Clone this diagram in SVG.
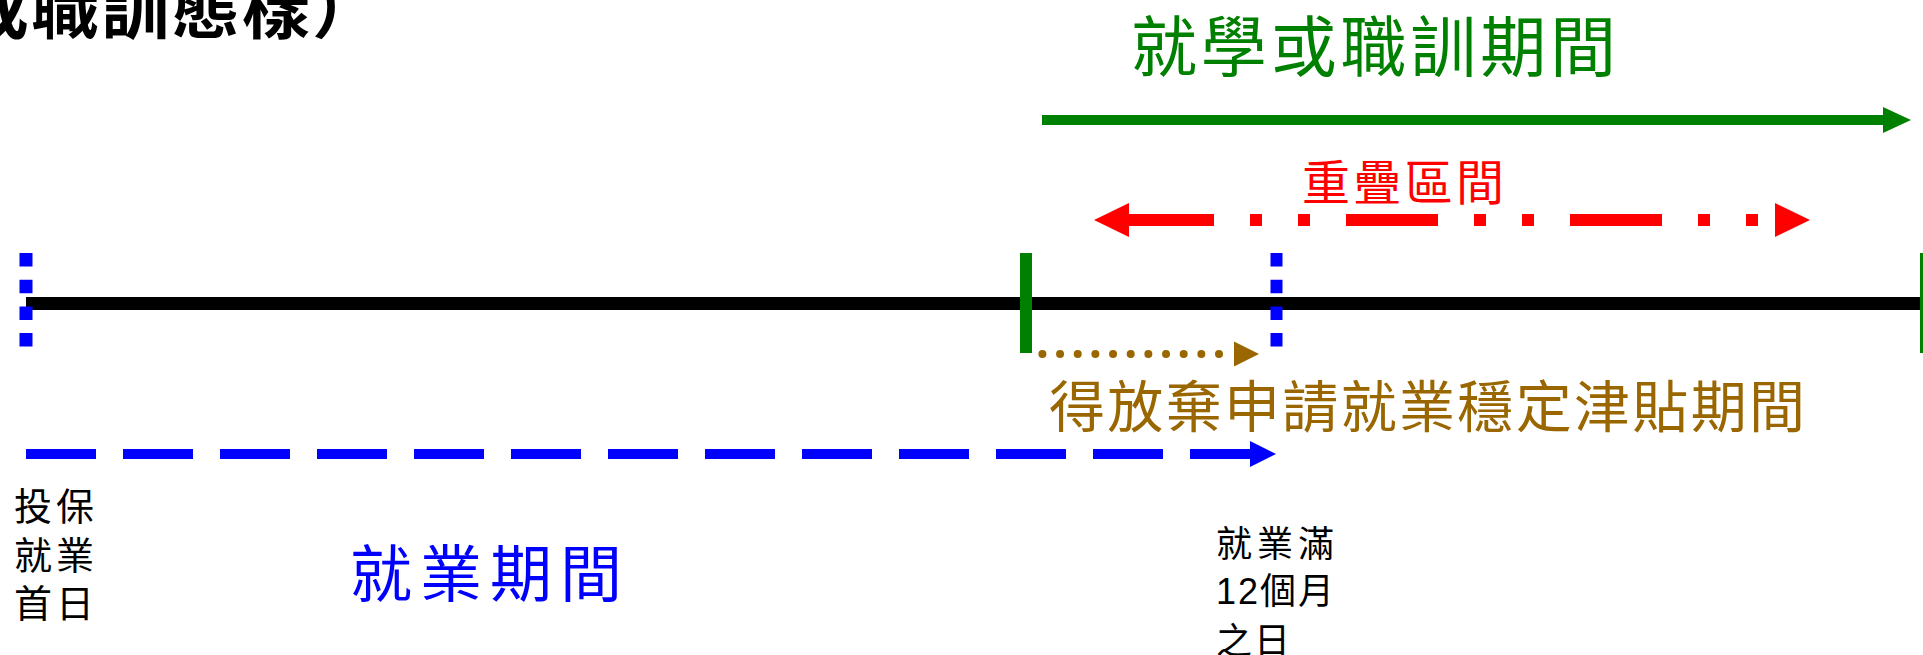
<svg xmlns="http://www.w3.org/2000/svg" width="1923" height="655" viewBox="0 0 1923 655">
<style>
text{font-family:"Liberation Sans","Noto Sans CJK TC","Noto Sans CJK SC",sans-serif;}
.title{font-size:68px;font-weight:bold;fill:#000;}
.green{fill:#008000;}
.red{fill:#FF0000;}
.brown{fill:#996600;}
.blue{fill:#0000FF;}
.black{fill:#000;}
</style>
<defs>
<marker id="hGreen" markerUnits="userSpaceOnUse" markerWidth="30" markerHeight="28" refX="0" refY="13" orient="auto" overflow="visible"><path d="M0,0 L28,13 L0,26 z" fill="#008000"/></marker>
<marker id="hRed" markerUnits="userSpaceOnUse" markerWidth="36" markerHeight="36" refX="0" refY="17" orient="auto-start-reverse" overflow="visible"><path d="M0,0 L35,17 L0,34 z" fill="#FF0000"/></marker>
<marker id="hBrown" markerUnits="userSpaceOnUse" markerWidth="26" markerHeight="26" refX="0" refY="12.5" orient="auto" overflow="visible"><path d="M0,0 L25,12.5 L0,25 z" fill="#996600"/></marker>
<marker id="hBlue" markerUnits="userSpaceOnUse" markerWidth="28" markerHeight="28" refX="0" refY="13" orient="auto" overflow="visible"><path d="M0,0 L26,13 L0,26 z" fill="#0000FF"/></marker>
</defs>
<rect width="1923" height="655" fill="#FFFFFF"/>

<g id="title">
<text class="title" x="-250" y="33" textLength="630" lengthAdjust="spacing">（就學或職訓態樣）</text>
</g>

<g id="timeline">
<line x1="26" y1="303.5" x2="1923" y2="303.5" stroke="#000" stroke-width="13"/>
</g>

<g id="connectors">
<line x1="1042" y1="120" x2="1883" y2="120" stroke="#008000" stroke-width="10" marker-end="url(#hGreen)"/>
<line x1="1129" y1="220" x2="1775" y2="220" stroke="#FF0000" stroke-width="12" stroke-dasharray="92 36 12 36 12 36" stroke-dashoffset="7" marker-start="url(#hRed)" marker-end="url(#hRed)"/>
<line x1="1042.4" y1="354" x2="1234" y2="354" stroke="#996600" stroke-width="8" stroke-linecap="round" stroke-dasharray="0 17.66" marker-end="url(#hBrown)"/>
<line x1="26" y1="454" x2="1250" y2="454" stroke="#0000FF" stroke-width="10" stroke-dasharray="70 27" marker-end="url(#hBlue)"/>
</g>

<g id="start-marker">
<line x1="26" y1="253" x2="26" y2="347" stroke="#0000FF" stroke-width="13" stroke-dasharray="13.5 13.2"/>
</g>
<g id="study-start-marker">
<rect x="1020" y="253" width="12" height="100" fill="#008000"/>
</g>
<g id="twelve-month-marker">
<line x1="1276.5" y1="253" x2="1276.5" y2="347" stroke="#0000FF" stroke-width="12" stroke-dasharray="13.5 13.2"/>
</g>
<g id="study-end-marker">
<rect x="1920" y="253" width="12" height="100" fill="#008000"/>
</g>

<g id="label-study">
<text class="green" x="1131" y="71" font-size="66" textLength="485" lengthAdjust="spacing">就學或職訓期間</text>
</g>
<g id="label-overlap">
<text class="red" x="1302" y="200" font-size="48" textLength="202" lengthAdjust="spacing">重疊區間</text>
</g>
<g id="label-waive">
<text class="brown" x="1049" y="427" font-size="56" textLength="756" lengthAdjust="spacing">得放棄申請就業穩定津貼期間</text>
</g>
<g id="label-employment">
<text class="blue" x="350" y="597" font-size="62" textLength="272" lengthAdjust="spacing">就業期間</text>
</g>
<g id="label-start-day">
<text class="black" x="14" y="520" font-size="38" textLength="80" lengthAdjust="spacing">投保</text>
<text class="black" x="14" y="569" font-size="38" textLength="80" lengthAdjust="spacing">就業</text>
<text class="black" x="14" y="617" font-size="38" textLength="80" lengthAdjust="spacing">首日</text>
</g>
<g id="label-twelve-months">
<text class="black" x="1216" y="557" font-size="36" textLength="118" lengthAdjust="spacing">就業滿</text>
<text class="black" x="1216" y="604" font-size="36" textLength="118" lengthAdjust="spacing">12個月</text>
<text class="black" x="1216" y="654" font-size="36" textLength="74" lengthAdjust="spacing">之日</text>
</g>
</svg>
